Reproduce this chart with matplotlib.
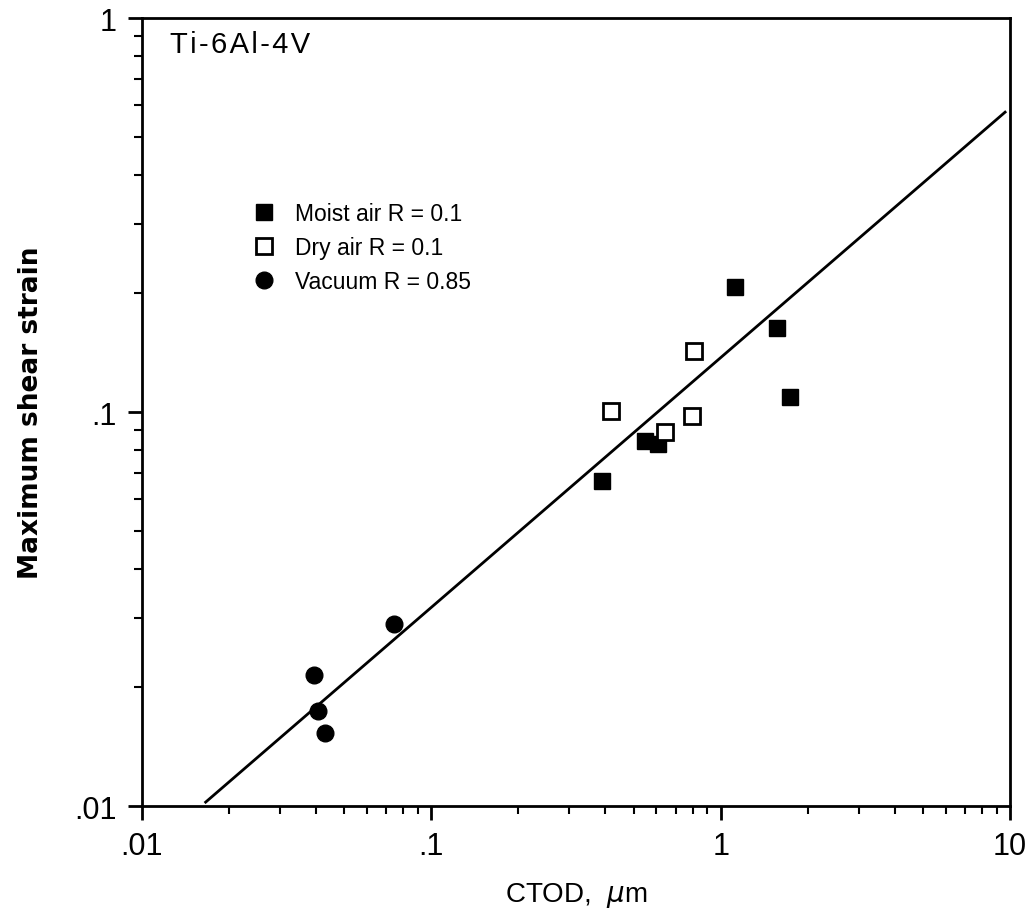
import matplotlib.pyplot as plt
from matplotlib.ticker import FixedLocator, LogLocator, NullFormatter

# CTOD (um) vs maximum shear strain, Ti-6Al-4V
moist_x = [0.389, 0.548, 0.608, 1.12, 1.57, 1.74]
moist_y = [0.0668, 0.0844, 0.0829, 0.2076, 0.1634, 0.1092]
dry_x = [0.418, 0.809, 0.796, 0.642]
dry_y = [0.1006, 0.1428, 0.0977, 0.0890]
vac_x = [0.0743, 0.0393, 0.0406, 0.0429]
vac_y = [0.0290, 0.0215, 0.0174, 0.0153]
# fitted line end points
fit_x = [0.0166, 9.62]
fit_y = [0.01023, 0.577]

x_ticks = [0.01, 0.1, 1, 10]
x_labels = [".01", ".1", "1", "10"]
y_ticks = [0.01, 0.1, 1]
y_labels = [".01", ".1", "1"]

plt.rcParams["font.family"] = ["Liberation Sans", "DejaVu Sans"]

fig = plt.figure(figsize=(10.31, 9.2), dpi=100)
ax = fig.add_axes([0.1377, 0.1228, 0.8419, 0.8565])

ax.plot(fit_x, fit_y, color="black", linewidth=2)
ax.plot(moist_x, moist_y, linestyle="none", marker="s", markersize=11,
        color="black", label="Moist air R = 0.1")
ax.plot(dry_x, dry_y, linestyle="none", marker="s", markersize=11,
        markerfacecolor="white", markeredgecolor="black", markeredgewidth=2,
        label="Dry air R = 0.1")
ax.plot(vac_x, vac_y, linestyle="none", marker="o", markersize=12,
        color="black", label="Vacuum R = 0.85")

ax.set_xscale("log")
ax.set_yscale("log")
ax.set_xlim(0.01, 10)
ax.set_ylim(0.01, 1)
ax.xaxis.set_major_locator(FixedLocator(x_ticks))
ax.set_xticklabels(x_labels)
ax.yaxis.set_major_locator(FixedLocator(y_ticks))
ax.set_yticklabels(y_labels)
ax.xaxis.set_minor_locator(LogLocator(base=10, subs=range(2, 10)))
ax.yaxis.set_minor_locator(LogLocator(base=10, subs=range(2, 10)))
ax.xaxis.set_minor_formatter(NullFormatter())
ax.yaxis.set_minor_formatter(NullFormatter())

ax.tick_params(which="major", direction="out", length=10, width=2, labelsize=22)
ax.tick_params(which="minor", direction="out", length=6, width=1.5)
ax.tick_params(axis="y", pad=8)
ax.tick_params(axis="x", pad=8)
for s in ax.spines.values():
    s.set_linewidth(2)

ax.set_xlabel("CTOD,  $\\mu$m", fontsize=20, labelpad=14)
ax.set_ylabel("Maximum shear strain", fontsize=19, fontweight="bold",
              family="DejaVu Sans", labelpad=22)

ax.text(0.032, 0.967, "T\u200ai\u200a-\u200a6\u200aA\u200al\u200a-\u200a4\u200aV",
        transform=ax.transAxes, fontsize=21, va="center", ha="left")

ax.legend(loc="upper left", bbox_to_anchor=(0.104, 0.778), frameon=False,
          fontsize=16.5, handletextpad=0.35, labelspacing=0.48, borderaxespad=0)

fig.savefig("out.png", dpi=100)
